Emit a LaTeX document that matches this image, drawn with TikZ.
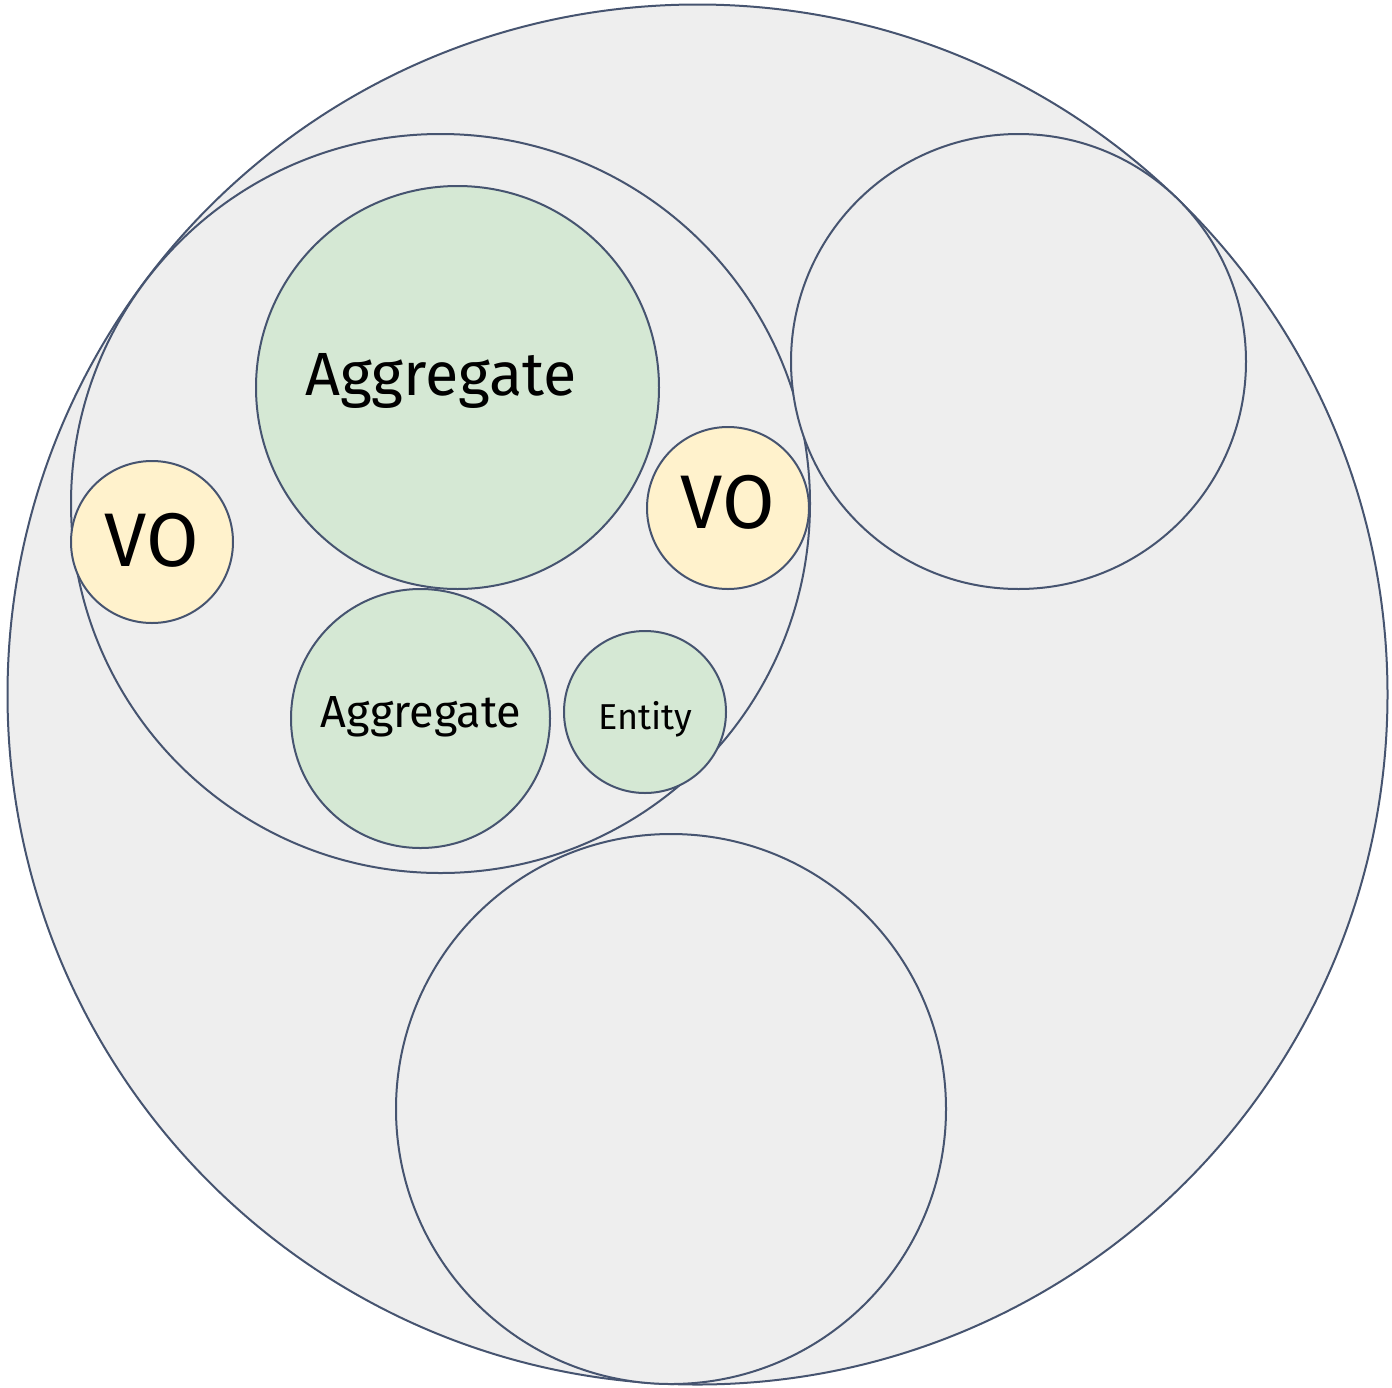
\documentclass[tikz,border=0pt]{standalone}
\usepackage{fontspec}
\setmainfont{Fira Sans}
\definecolor{ring}{HTML}{465470}
\definecolor{zone}{HTML}{EEEEEE}
\definecolor{aggfill}{HTML}{D5E8D4}
\definecolor{vofill}{HTML}{FFF2CC}
\tikzset{
  bubble/.style={circle, draw=ring, line width=2pt, inner sep=0pt, minimum size=#1},
  label text/.style={anchor=base, text=black, inner sep=0pt}
}
\begin{document}
\begin{tikzpicture}[x=1pt,y=-1pt]
  \useasboundingbox (0,0) rectangle (1392,1387);
  % outer domain
  \node[bubble=1380, fill=zone] (domain) at (697.5,694.5) {};
  % sub-domains
  \node[bubble=739, fill=zone] (core) at (440.5,503.5) {};
  \node[bubble=455, fill=zone] (upper) at (1018.5,361.5) {};
  \node[bubble=550, fill=zone] (lower) at (671,1109) {};
  % building blocks inside the core
  \node[bubble=403, fill=aggfill] (aggA) at (457.5,387.5) {};
  \node[bubble=162, fill=vofill] (voL) at (152,542) {};
  \node[bubble=162, fill=vofill] (voR) at (728,508) {};
  \node[bubble=259, fill=aggfill] (aggB) at (420.5,718.5) {};
  \node[bubble=162, fill=aggfill] (ent) at (645,712) {};
  % labels
  \node[label text, font=\fontsize{61}{61}\selectfont] (aggAtxt) at (441,395) {Aggregate};
  \node[label text, font=\fontsize{76}{76}\selectfont] (voLtxt) at (152,566) {VO};
  \node[label text, font=\fontsize{76}{76}\selectfont] (voRtxt) at (728,528) {VO};
  \node[label text, font=\fontsize{45}{45}\selectfont] (aggBtxt) at (421,727) {Aggregate};
  \node[label text, font=\fontsize{36}{36}\selectfont] (enttxt) at (645,729) {Entity};
\end{tikzpicture}
\end{document}
